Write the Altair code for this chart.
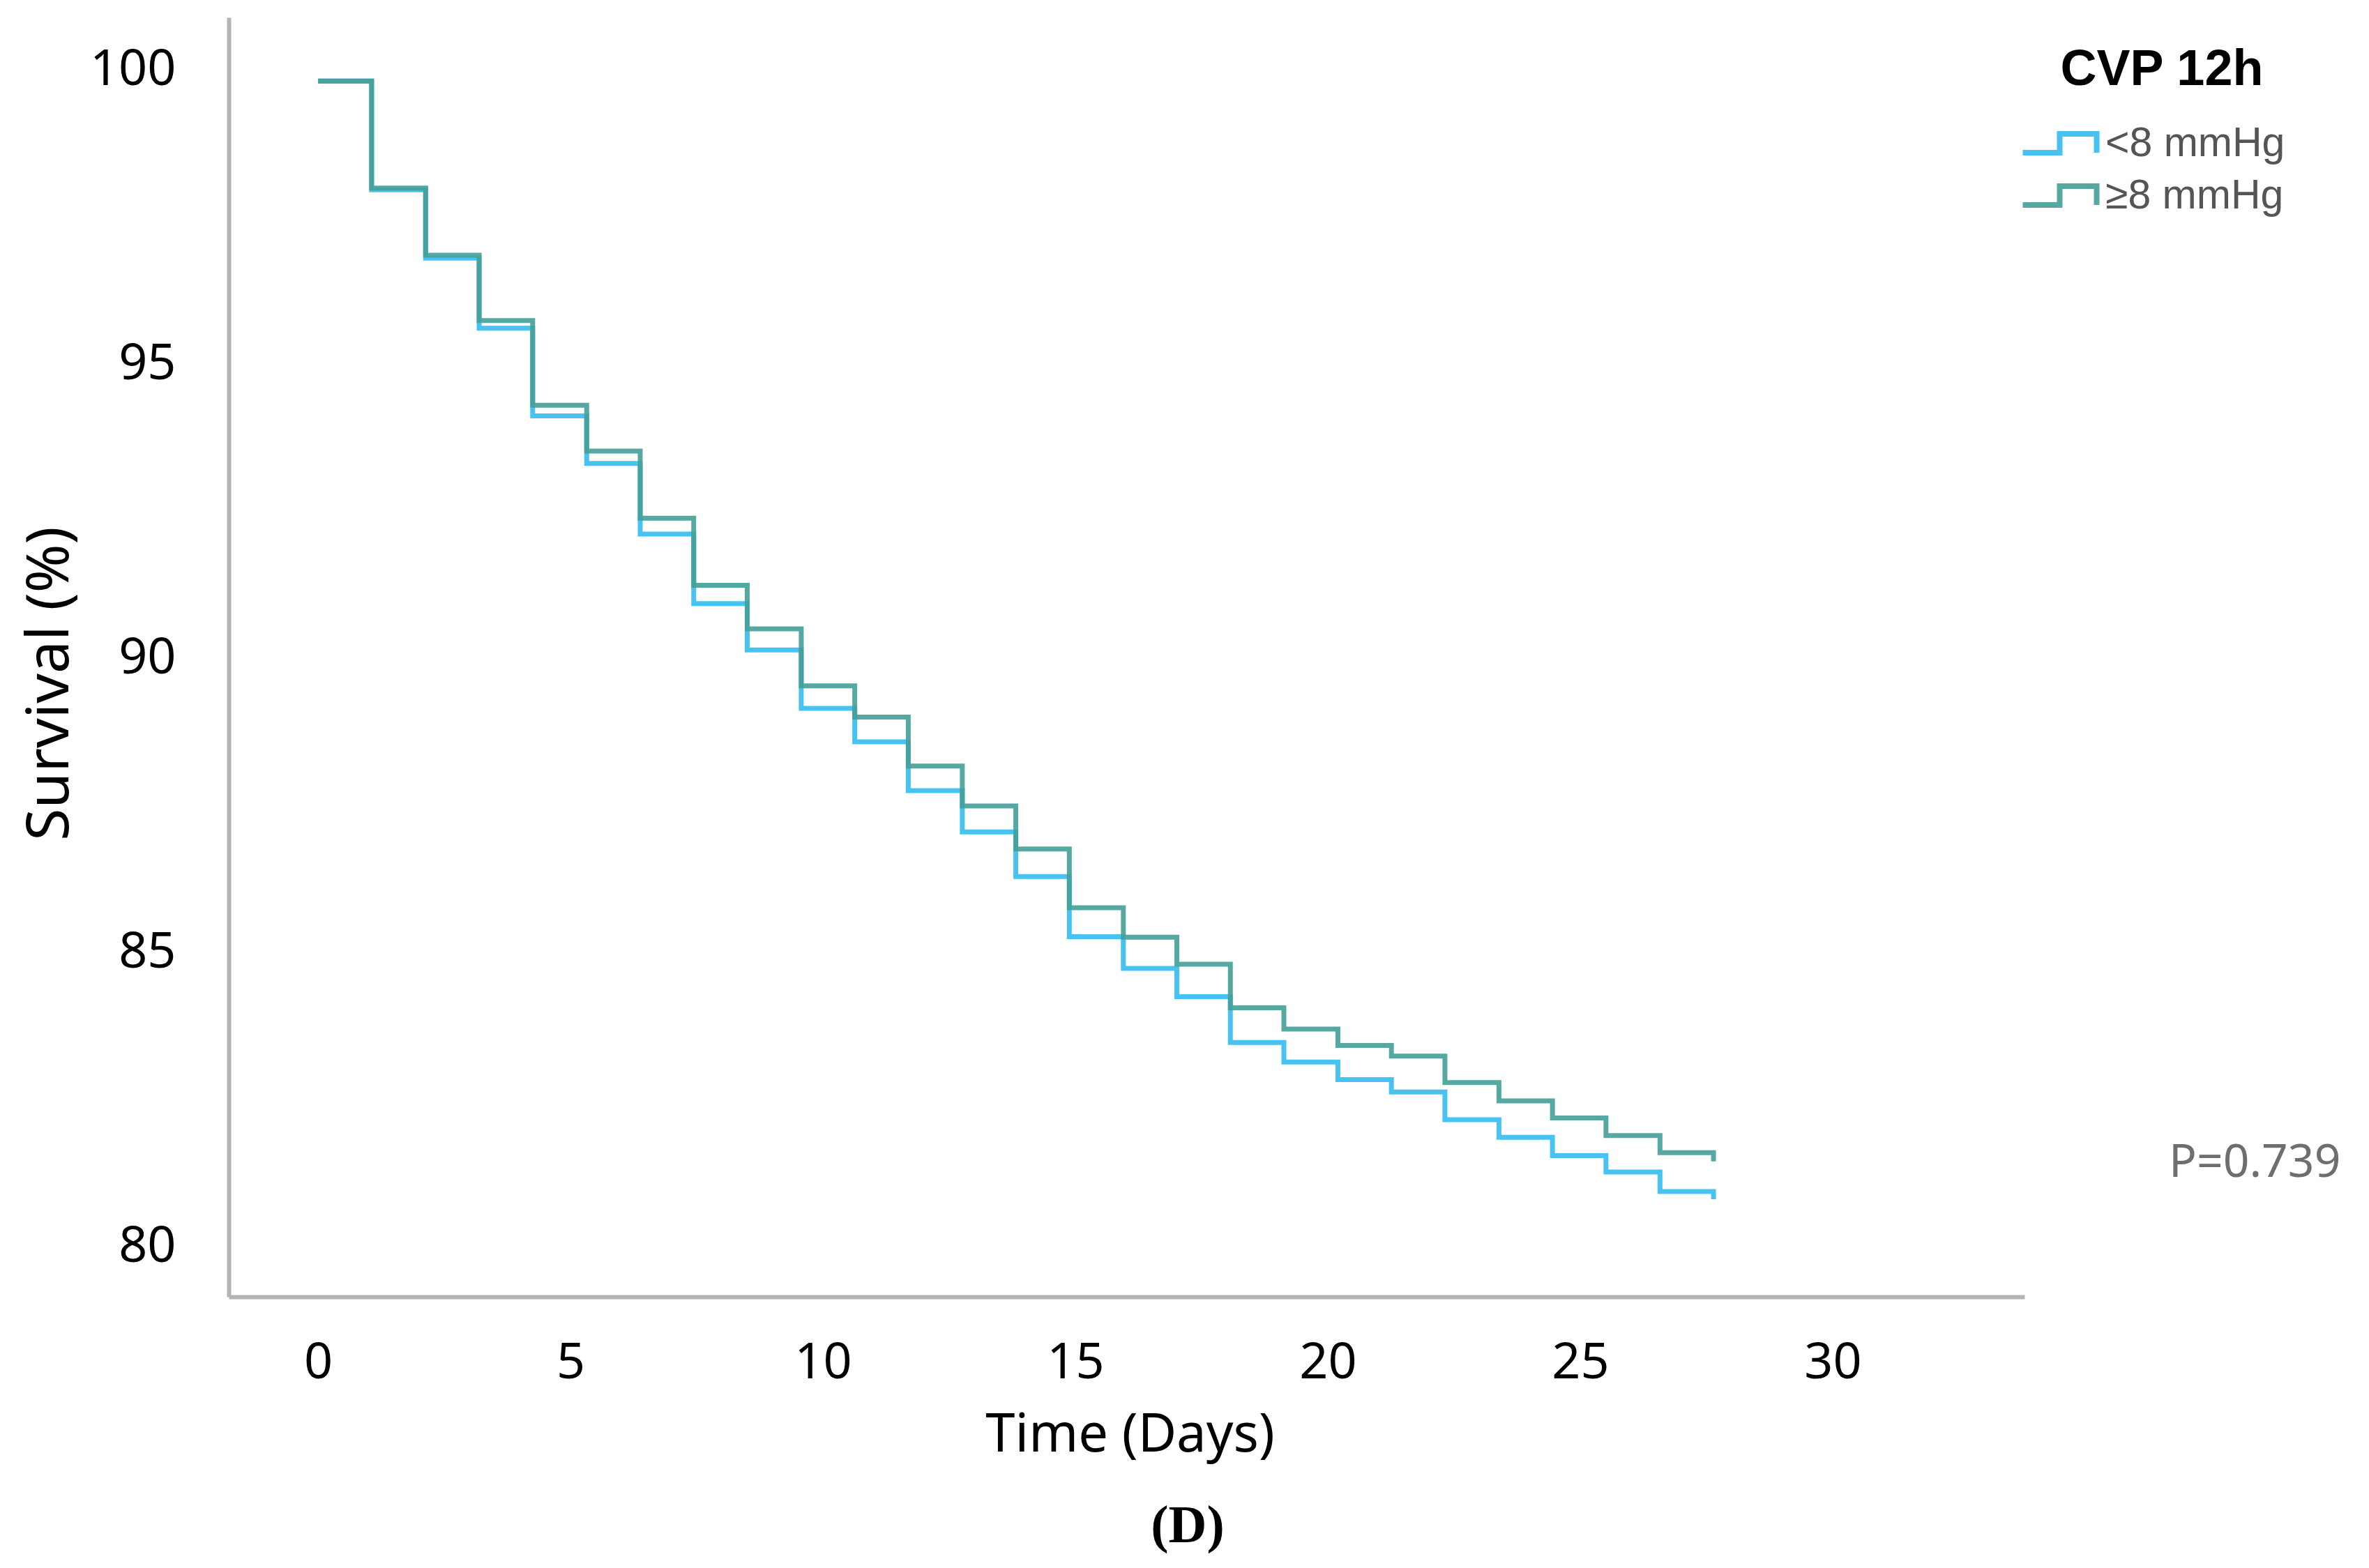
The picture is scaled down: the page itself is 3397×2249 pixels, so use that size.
import altair as alt
import pandas as pd

# ---- data ----
days = [0, 1.06, 2.13, 3.19, 4.25, 5.32, 6.38, 7.44, 8.50, 9.57, 10.63, 11.69, 12.76,
        13.82, 14.88, 15.95, 17.01, 18.07, 19.13, 20.20, 21.26, 22.32, 23.39, 24.45,
        25.51, 26.58, 27.64]
surv_low = [99.8, 97.95, 96.79, 95.60, 94.11, 93.30, 92.10, 90.92, 90.13, 89.14, 88.57, 87.74, 87.04,
            86.28, 85.26, 84.72, 84.24, 83.46, 83.13, 82.83, 82.62, 82.15, 81.85, 81.54, 81.26, 80.93, 80.80]
surv_high = [99.8, 97.98, 96.84, 95.73, 94.29, 93.51, 92.37, 91.23, 90.49, 89.52, 88.99, 88.16, 87.48,
             86.75, 85.75, 85.25, 84.79, 84.05, 83.69, 83.41, 83.23, 82.78, 82.47, 82.18, 81.88, 81.59, 81.44]
groups = ["<8 mmHg", "≥8 mmHg"]
group_colors = ["#33bbf0", "#44a098"]
x_ticks = [0, 5, 10, 15, 20, 25, 30]
y_ticks = [80, 85, 90, 95, 100]
p_text = ["P=0.739"]
panel_text = ["(D)"]

rows = []
for d, v in zip(days, surv_low):
    rows.append({"day": d, "surv": v, "grp": groups[0]})
for d, v in zip(days, surv_high):
    rows.append({"day": d, "surv": v, "grp": groups[1]})
df = pd.DataFrame(rows)

W, H = 2575, 1835

xscale = alt.Scale(domain=[-1.77, 33.80], nice=False, zero=False)
yscale = alt.Scale(domain=[79.14, 100.88], nice=False, zero=False)

xaxis = alt.Axis(values=x_ticks, grid=False, ticks=False, tickSize=0, domainColor="#b3b3b3",
                 domainWidth=6, labelFont="Noto Sans", labelFontSize=72, labelColor="black",
                 labelPadding=59, title="Time (Days)", titleFont="Noto Sans", titleFontSize=76,
                 titleFontWeight="normal", titleColor="black", titleX=1292, titleY=198,
                 titleBaseline="middle", titleAlign="center")
yaxis = alt.Axis(values=y_ticks, grid=False, ticks=False, tickSize=0, domainColor="#b3b3b3",
                 domainWidth=6, labelFont="Noto Sans", labelFontSize=72, labelColor="black",
                 labelPadding=76, title="Survival (%)", titleFont="Noto Sans", titleFontSize=84,
                 titleFontWeight="normal", titleColor="black", titleX=-256, titleY=955,
                 titleBaseline="middle", titleAlign="center", titleAngle=270)

color = alt.Color(
    "grp:N",
    scale=alt.Scale(domain=groups, range=group_colors),
    legend=alt.Legend(
        title="CVP 12h", orient="none", legendX=2596, legendY=40,
        titleAnchor="middle", titleAlign="center", titleFont="Liberation Sans",
        titleFontSize=72, titleFontWeight="bold", titleColor="black", titlePadding=39,
        titleLimit=0, labelLimit=0,
        labelFont="Liberation Sans", labelFontSize=59, labelColor="#555555", labelOffset=36,
        symbolType="M-2.65,0.67L0,0.67L0,-0.67L2.65,-0.67L2.65,0.67",
        symbolSize=1600, symbolStrokeWidth=8, symbolFillColor="transparent",
        rowPadding=15, padding=0,
    ),
)

base = alt.Chart(df)
line_low = base.transform_filter(alt.datum.grp == groups[0]).mark_line(
    interpolate="step-after", strokeWidth=7, opacity=0.9
).encode(x=alt.X("day:Q", scale=xscale, axis=xaxis),
         y=alt.Y("surv:Q", scale=yscale, axis=yaxis),
         color=color)
line_high = base.transform_filter(alt.datum.grp == groups[1]).mark_line(
    interpolate="step-after", strokeWidth=7, opacity=0.9
).encode(x=alt.X("day:Q", scale=xscale, axis=xaxis),
         y=alt.Y("surv:Q", scale=yscale, axis=yaxis),
         color=color)

p_label = alt.Chart(pd.DataFrame({"t": p_text})).mark_text(
    font="Noto Sans", fontSize=66, color="#6e6e6e", align="left", baseline="middle"
).encode(text="t:N", x=alt.value(2782), y=alt.value(1643))

panel_label = alt.Chart(pd.DataFrame({"t": panel_text})).mark_text(
    font="Liberation Serif", fontSize=76, fontWeight="bold", color="black",
    align="center", baseline="middle"
).encode(text="t:N", x=alt.value(1375), y=alt.value(2164))

chart = alt.layer(line_low, line_high, p_label, panel_label).properties(
    width=W, height=H,
    autosize=alt.AutoSizeParams(type="none"),
    padding={"left": 320, "top": 17, "right": 486, "bottom": 381},
    background="white",
).configure_view(stroke=None)

chart.save("out.html", embed_options={"renderer": "svg", "actions": False})
